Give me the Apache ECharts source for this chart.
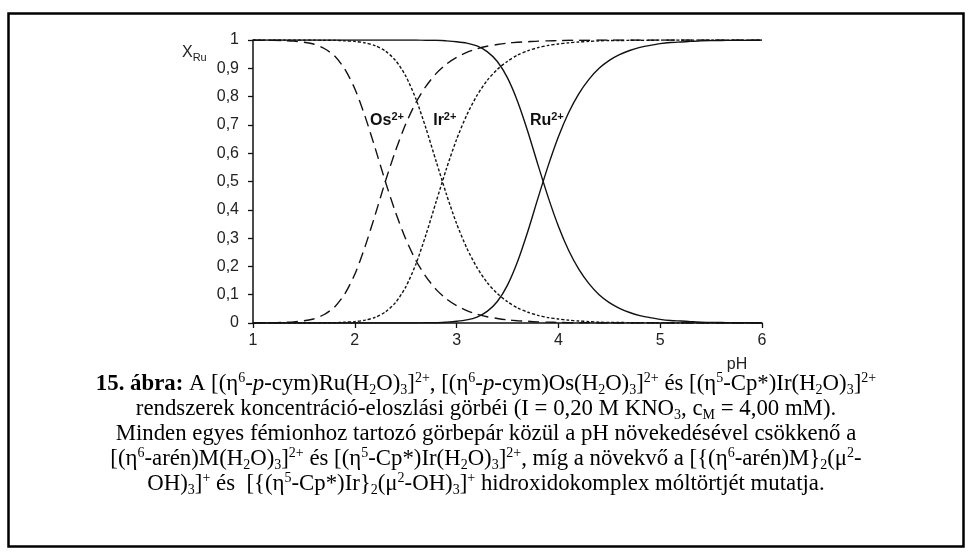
<!DOCTYPE html>
<html>
<head>
<meta charset="utf-8">
<script src="https://cdn.jsdelivr.net/npm/echarts@6/dist/echarts.min.js"></script>
<style>
  html, body { margin: 0; padding: 0; background: #fff; }
  #chart { width: 972px; height: 560px; }
</style>
</head>
<body>
<div id="chart"></div>
<script>
// pH grid shared by all curves
const pH = [1.0, 1.1, 1.2, 1.3, 1.4, 1.5, 1.6, 1.7, 1.8, 1.9,
            2.0, 2.1, 2.2, 2.3, 2.4, 2.5, 2.6, 2.7, 2.8, 2.9,
            3.0, 3.1, 3.2, 3.3, 3.4, 3.5, 3.6, 3.7, 3.8, 3.9,
            4.0, 4.1, 4.2, 4.3, 4.4, 4.5, 4.6, 4.7, 4.8, 4.9,
            5.0, 5.1, 5.2, 5.3, 5.4, 5.5, 5.6, 5.7, 5.8, 5.9, 6.0];

// Mole fractions: aqua complex (falling) and hydroxido-bridged dimer (rising)
const osAqua = [1.000, 0.999, 0.999, 0.998, 0.996, 0.992, 0.985, 0.970, 0.944, 0.898,
                0.828, 0.731, 0.618, 0.500, 0.391, 0.297, 0.221, 0.163, 0.118, 0.085,
                0.061, 0.044, 0.031, 0.022, 0.016, 0.011, 0.008, 0.006, 0.004, 0.003,
                0.002, 0.001, 0.001, 0.001, 0, 0, 0, 0, 0, 0,
                0, 0, 0, 0, 0, 0, 0, 0, 0, 0, 0];
const osDimer = [0.000, 0.001, 0.001, 0.002, 0.004, 0.008, 0.015, 0.030, 0.056, 0.102,
                 0.172, 0.269, 0.382, 0.500, 0.609, 0.703, 0.779, 0.837, 0.882, 0.915,
                 0.939, 0.956, 0.969, 0.978, 0.984, 0.989, 0.992, 0.994, 0.996, 0.997,
                 0.998, 0.999, 0.999, 0.999, 1, 1, 1, 1, 1, 1,
                 1, 1, 1, 1, 1, 1, 1, 1, 1, 1, 1];

const irAqua = [1.000, 1.000, 1.000, 1.000, 1.000, 1.000, 1.000, 0.999, 0.999, 0.997,
                0.995, 0.990, 0.980, 0.961, 0.928, 0.873, 0.792, 0.687, 0.570, 0.455,
                0.351, 0.265, 0.196, 0.143, 0.104, 0.075, 0.053, 0.038, 0.027, 0.019,
                0.014, 0.010, 0.007, 0.005, 0.003, 0.002, 0.002, 0.001, 0.001, 0.001,
                0, 0, 0, 0, 0, 0, 0, 0, 0, 0, 0];
const irDimer = [0, 0, 0, 0, 0, 0, 0, 0.001, 0.001, 0.003,
                 0.005, 0.010, 0.020, 0.039, 0.072, 0.127, 0.208, 0.313, 0.430, 0.545,
                 0.649, 0.735, 0.804, 0.857, 0.896, 0.925, 0.947, 0.962, 0.973, 0.981,
                 0.986, 0.990, 0.993, 0.995, 0.997, 0.998, 0.998, 0.999, 0.999, 0.999,
                 1, 1, 1, 1, 1, 1, 1, 1, 1, 1, 1];

const ruAqua = [1.000, 1.000, 1.000, 1.000, 1.000, 1.000, 1.000, 1.000, 1.000, 1.000,
                1.000, 1.000, 1.000, 1.000, 1.000, 1.000, 1.000, 0.999, 0.999, 0.997,
                0.994, 0.989, 0.979, 0.959, 0.924, 0.866, 0.782, 0.676, 0.558, 0.444,
                0.342, 0.257, 0.190, 0.139, 0.100, 0.072, 0.052, 0.037, 0.026, 0.019,
                0.013, 0.009, 0.007, 0.005, 0.003, 0.002, 0.002, 0.001, 0.001, 0.001, 0.000];
const ruDimer = [0, 0, 0, 0, 0, 0, 0, 0, 0, 0,
                 0, 0, 0, 0, 0, 0, 0, 0.001, 0.001, 0.003,
                 0.006, 0.011, 0.021, 0.041, 0.076, 0.134, 0.218, 0.324, 0.442, 0.556,
                 0.658, 0.743, 0.810, 0.861, 0.900, 0.928, 0.948, 0.963, 0.974, 0.981,
                 0.987, 0.991, 0.993, 0.995, 0.997, 0.998, 0.998, 0.999, 0.999, 0.999, 1.000];

// Curve annotations: metal, superscript charge, anchor (pH, fraction) of the label's left edge
const curveLabels = [
  { metal: 'Os', charge: '2+', pH: 2.15, frac: 0.716 },
  { metal: 'Ir', charge: '2+', pH: 2.77, frac: 0.716 },
  { metal: 'Ru', charge: '2+', pH: 3.72, frac: 0.716 }
];

// Caption lines (rich text: sup = superscript, sub = subscript, b = bold, i = italic)
const captionLines = [
  '{b|15. ábra:} A [(η{sup|6}-{i|p}-cym)Ru(H{sub|2}O){sub|3}]{sup|2+}, [(η{sup|6}-{i|p}-cym)Os(H{sub|2}O){sub|3}]{sup|2+} és [(η{sup|5}-Cp*)Ir(H{sub|2}O){sub|3}]{sup|2+}',
  'rendszerek koncentráció-eloszlási görbéi (I = 0,20 M KNO{sub|3}, c{sub|M} = 4,00 mM).',
  'Minden egyes fémionhoz tartozó görbepár közül a pH növekedésével csökkenő a',
  '[(η{sup|6}-arén)M(H{sub|2}O){sub|3}]{sup|2+} és [(η{sup|5}-Cp*)Ir(H{sub|2}O){sub|3}]{sup|2+}, míg a növekvő a [{(η{sup|6}-arén)M}{sub|2}(μ{sup|2}-',
  'OH){sub|3}]{sup|+} és  [{(η{sup|5}-Cp*)Ir}{sub|2}(μ{sup|2}-OH){sub|3}]{sup|+} hidroxidokomplex móltörtjét mutatja.'
];

const SANS = 'Liberation Sans, Arial, sans-serif';
const SERIF = 'Liberation Serif, Times New Roman, serif';
const INK = '#111';
const CAP_SIZE = 22.8;
const CAP_SMALL = 14;

function pairs(vals) {
  return pH.map((p, i) => [p, vals[i]]);
}

function curve(name, vals, type) {
  return {
    name: name,
    type: 'line',
    data: pairs(vals),
    symbol: 'none',
    smooth: 0.25,
    lineStyle: { color: INK, width: 1.4, type: type },
    silent: true
  };
}

const chart = echarts.init(document.getElementById('chart'), null, { renderer: 'canvas' });

chart.setOption({
  animation: false,
  backgroundColor: '#fff',
  grid: { left: 253, right: 210, top: 40, bottom: 237, containLabel: false },
  xAxis: {
    type: 'value', min: 1, max: 6, interval: 1,
    axisLine: { show: true, lineStyle: { color: INK, width: 1.5 } },
    axisTick: { show: true, inside: false, length: 5, lineStyle: { color: INK, width: 1.3 } },
    splitLine: { show: false },
    axisLabel: { color: '#222', fontFamily: SANS, fontSize: 16, margin: 10 }
  },
  yAxis: {
    type: 'value', min: 0, max: 1, interval: 0.1,
    axisLine: { show: true, lineStyle: { color: INK, width: 1.5 } },
    axisTick: { show: true, inside: false, length: 5, lineStyle: { color: INK, width: 1.3 } },
    splitLine: { show: false },
    axisLabel: {
      color: '#222', fontFamily: SANS, fontSize: 16, margin: 14,
      formatter: function (v) {
        if (Math.abs(v - Math.round(v)) < 1e-9) return String(Math.round(v));
        return v.toFixed(1).replace('.', ',');
      }
    }
  },
  series: [
    curve('Ru aqua', ruAqua, 'solid'),
    curve('Ru dimer', ruDimer, 'solid'),
    curve('Os aqua', osAqua, [11, 6]),
    curve('Os dimer', osDimer, [11, 6]),
    curve('Ir aqua', irAqua, [3, 2]),
    curve('Ir dimer', irDimer, [3, 2])
  ]
});

const graphics = [];

// Figure frame
graphics.push({
  type: 'rect',
  shape: { x: 8.5, y: 13.5, width: 955, height: 533 },
  style: { fill: 'none', stroke: '#000', lineWidth: 2.5 },
  silent: true
});

// Axis titles
graphics.push({
  type: 'text', x: 182, y: 53,
  style: {
    text: 'X{s|Ru}', fontFamily: SANS, fontSize: 16, fill: '#222',
    align: 'left', verticalAlign: 'middle', lineHeight: 20,
    rich: { s: { fontFamily: SANS, fontSize: 11, lineHeight: 11, verticalAlign: 'bottom', fill: '#222' } }
  }
});
graphics.push({
  type: 'text', x: 737, y: 365,
  style: { text: 'pH', fontFamily: SANS, fontSize: 16, fill: '#222', align: 'center', verticalAlign: 'middle' }
});

// Curve labels
curveLabels.forEach(function (l) {
  const p = chart.convertToPixel({ gridIndex: 0 }, [l.pH, l.frac]);
  graphics.push({
    type: 'text', x: p[0], y: p[1],
    style: {
      text: '{m|' + l.metal + '}{c|' + l.charge + '}',
      align: 'left', verticalAlign: 'middle',
      rich: {
        m: { fontFamily: SANS, fontSize: 16, fontWeight: 'bold', fill: INK, lineHeight: 18 },
        c: { fontFamily: SANS, fontSize: 11, fontWeight: 'bold', fill: INK, lineHeight: 12, verticalAlign: 'top' }
      }
    }
  });
});

// Caption
const captionRich = {
  b: { fontFamily: SERIF, fontSize: CAP_SIZE, fontWeight: 'bold', fill: '#000', lineHeight: 26 },
  i: { fontFamily: SERIF, fontSize: CAP_SIZE, fontStyle: 'italic', fill: '#000', lineHeight: 26 },
  sup: { fontFamily: SERIF, fontSize: CAP_SMALL, fill: '#000', lineHeight: 11, verticalAlign: 'top' },
  sub: { fontFamily: SERIF, fontSize: CAP_SMALL, fill: '#000', lineHeight: 15, verticalAlign: 'bottom' }
};
const captionY = [384, 409, 434, 459, 484];
captionLines.forEach(function (line, i) {
  graphics.push({
    type: 'text', x: 486, y: captionY[i],
    style: {
      text: line, fontFamily: SERIF, fontSize: CAP_SIZE, fill: '#000', lineHeight: 26,
      align: 'center', verticalAlign: 'middle', rich: captionRich
    }
  });
});

chart.setOption({ graphic: graphics });
</script>
</body>
</html>
